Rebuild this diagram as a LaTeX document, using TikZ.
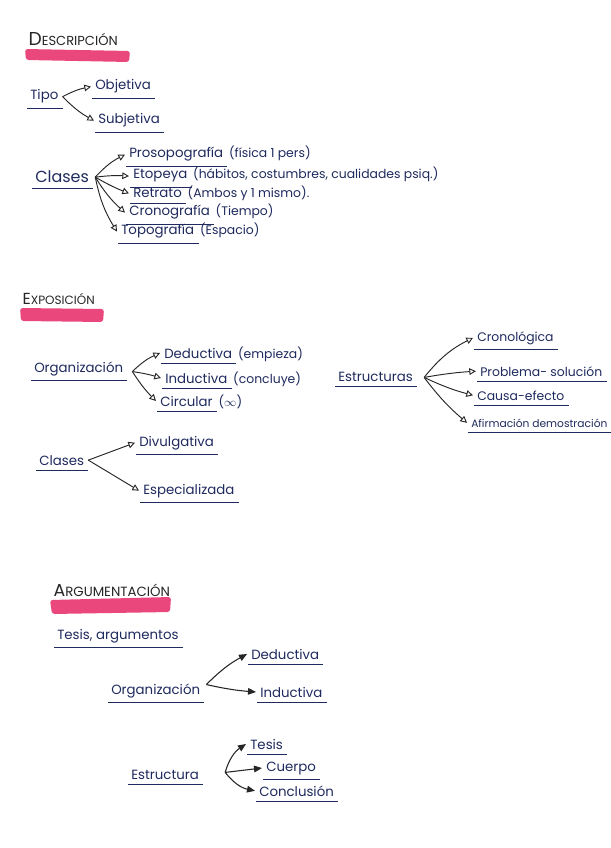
\documentclass[tikz,border=0pt]{standalone}
\usepackage{fontspec}
\setmainfont{Poppins}
\usetikzlibrary{arrows.meta,calc}
\definecolor{ink}{HTML}{1F2A5E}
\definecolor{hl}{HTML}{E8356E}
\begin{document}
\begin{tikzpicture}[x=0.75pt,y=-0.75pt,
  txt/.style={anchor=base west,text=ink,inner xsep=3pt,inner ysep=2.5pt,font=\fontsize{10}{12}\selectfont},
  par/.style={anchor=base west,text=ink,inner xsep=1pt,inner ysep=2.5pt,font=\fontsize{9.3}{11}\selectfont},
  head/.style={anchor=base west,text=black!85,inner sep=1pt},
  bar/.style={fill=hl,rounded corners=2pt,opacity=0.9},
  ul/.style={draw=ink,line width=0.8pt},
  oarr/.style={draw=black!85,line width=0.7pt,-{Triangle[open,length=5pt,width=5pt]}},
  farr/.style={draw=black!85,line width=0.8pt,-{Triangle[length=6pt,width=5pt]}}]
\useasboundingbox[fill=white] (0,0) rectangle (610,848);

% ===== DESCRIPCION =====
\fill[bar] (25,49) -- (130,51) -- (129,62) -- (26,60) -- cycle;
\node[head] (hd) at (27,46) {\fontsize{14}{15}\selectfont D\fontsize{9.8}{11}\selectfont ESCRIPCIÓN};

\node[txt] (tipo) at (26,100) {Tipo};
\node[txt] (obj) at (91,90) {Objetiva};
\node[txt] (sub) at (94,124) {Subjetiva};
\draw[oarr] (tipo.east) to[bend left=8] (obj.west);
\draw[oarr] (tipo.east) to[bend right=8] (sub.west);

\node[txt,font=\fontsize{12}{14}\selectfont] (clases) at (31,183) {Clases};
\node[txt] (proso) at (125,158) {Prosopografía};
\node[par] (prosop) at (proso.base east) {(física 1 pers)};
\node[txt] (eto) at (129,179) {Etopeya};
\node[par] (etop) at (eto.base east) {(hábitos, costumbres, cualidades psiq.)};
\node[txt] (ret) at (129,198) {Retrato};
\node[par] (retp) at (ret.base east) {(Ambos y 1 mismo).};
\node[txt] (cro) at (125,216) {Cronografía};
\node[par] (crop) at (cro.base east) {(Tiempo)};
\node[txt] (topo) at (117,235) {Topografía};
\node[par] (topop) at (topo.base east) {(Espacio)};
\coordinate (cs) at ($(clases.east)+(2,0)$);
\draw[oarr] (cs) to[bend left=10] (proso.west);
\draw[oarr] (cs) to[bend left=5] (eto.west);
\draw[oarr] (cs) to[bend right=4] (ret.west);
\draw[oarr] (cs) to[bend right=8] (cro.west);
\draw[oarr] (cs) to[bend right=10] (topo.west);

% ===== EXPOSICION =====
\fill[bar] (20,308) -- (104,309) -- (103,322) -- (21,321) -- cycle;
\node[head] (he) at (21,304) {\fontsize{12}{13}\selectfont E\fontsize{9}{10}\selectfont XPOSICIÓN};

\node[txt] (org) at (30,372) {Organización};
\node[txt] (ded) at (160,358) {Deductiva};
\node[par] (dedp) at (ded.base east) {(empieza)};
\node[txt] (ind) at (161,383) {Inductiva};
\node[par] (indp) at (ind.base east) {(concluye)};
\node[txt] (cir) at (156,406) {Circular};
\node[par] (cirp) at (cir.base east) {($\infty$)};
\coordinate (os) at ($(org.east)+(5,3)$);
\draw[oarr] (os) to[bend left=10] (ded.west);
\draw[oarr] (os) to[bend left=4] (ind.west);
\draw[oarr] (os) to[bend right=6] (cir.west);

\node[txt] (est) at (334,381) {Estructuras};
\node[txt,font=\fontsize{9.3}{11}\selectfont] (cron) at (473,341) {Cronológica};
\node[txt,font=\fontsize{9.3}{11}\selectfont] (prob) at (476,376) {Problema- solución};
\node[txt,font=\fontsize{9.3}{11}\selectfont] (cau) at (473,400) {Causa-efecto};
\node[txt,font=\fontsize{8}{10}\selectfont] (afi) at (467,427) {Afirmación demostración};
\coordinate (es) at ($(est.east)+(7,1)$);
\draw[oarr] (es) to[bend left=12] (cron.west);
\draw[oarr] (es) to[bend left=3] (prob.west);
\draw[oarr] (es) to[bend right=5] (cau.west);
\draw[oarr] (es) to[bend right=6] (afi.west);

\node[txt] (cla2) at (35,465) {Clases};
\node[txt] (div) at (135,446) {Divulgativa};
\node[txt] (esp) at (139,494) {Especializada};
\draw[oarr] (cla2.east) -- (div.west);
\draw[oarr] (cla2.east) -- (esp.west);

% ===== ARGUMENTACION =====
\fill[bar] (50,600) -- (171,597) -- (170,612) -- (52,614) -- cycle;
\node[head] (ha) at (52,596) {\fontsize{13}{14}\selectfont A\fontsize{10}{11}\selectfont RGUMENTACIÓN};

\node[txt] (tes) at (53,639) {Tesis, argumentos};
\node[txt] (org2) at (107,694) {Organización};
\node[txt] (ded2) at (247,659) {Deductiva};
\node[txt] (ind2) at (256,697) {Inductiva};
\coordinate (o2) at ($(org2.east)+(2,-6)$);
\draw[farr] (o2) to[bend left=8] (ded2.west);
\draw[farr] (o2) to[bend right=4] (ind2.west);

\node[txt] (estr) at (127,779) {Estructura};
\node[txt] (tesis) at (246,749) {Tesis};
\node[txt] (cue) at (262,771) {Cuerpo};
\node[txt] (con) at (255,796) {Conclusión};
\coordinate (e2) at ($(estr.east)+(22,-2)$);
\draw[farr] (e2) to[bend left=20] (tesis.west);
\draw[farr] (e2) -- (cue.west);
\draw[farr] (e2) to[bend right=20] (con.west);

% underlines
\foreach \n in {tipo,obj,sub,clases,proso,eto,ret,cro,topo,org,ded,ind,cir,est,cron,prob,cau,afi,cla2,div,esp,tes,org2,ded2,ind2,estr,tesis,cue,con}
  \draw[ul] ($(\n.south west)+(1,1.5)$) -- ($(\n.south east)+(0,1.5)$);
\end{tikzpicture}
\end{document}
